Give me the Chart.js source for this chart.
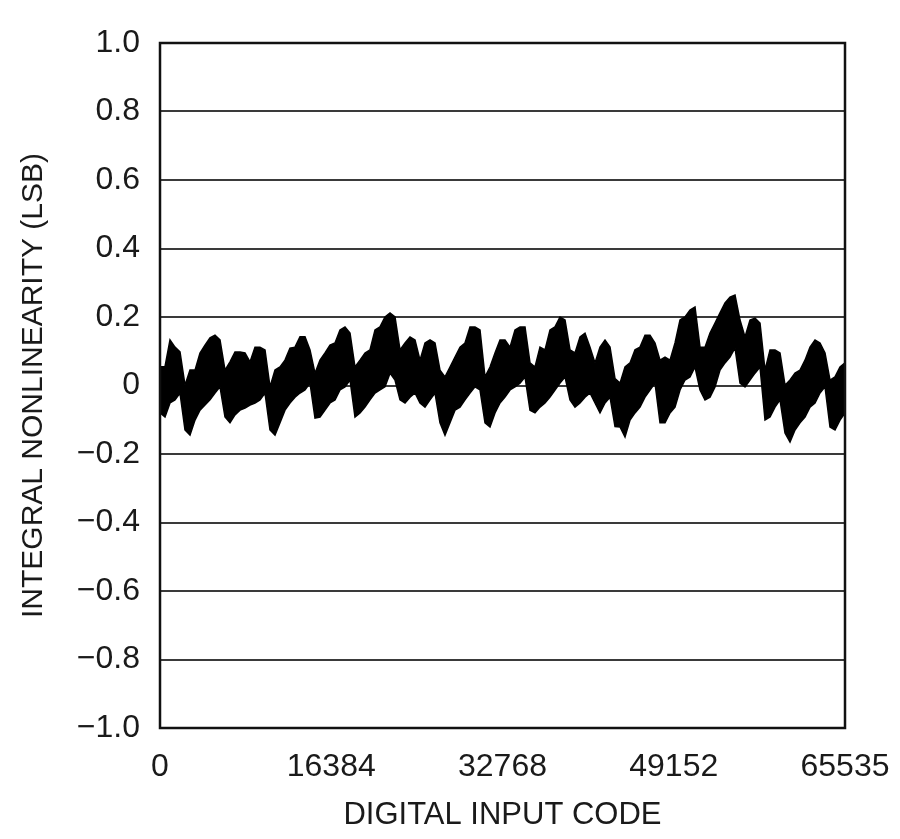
<!DOCTYPE html>
<html>
<head>
<meta charset="utf-8">
<script src="https://cdn.jsdelivr.net/npm/chart.js@4/dist/chart.umd.min.js"></script>
<style>
  html, body { margin: 0; padding: 0; background: #fff; }
  #wrap { width: 900px; height: 839px; position: relative; }
</style>
</head>
<body>
<div id="wrap"><canvas id="c"></canvas></div>
<script>
// ---- data ----
const codes = [0, 478, 957, 1435, 1913, 2392, 2870, 3349, 3827, 4305, 4784, 5262, 5740, 6219, 6697, 7175, 7654, 8132, 8611, 9089, 9567, 10046, 10524, 11002, 11481, 11959, 12437, 12916, 13394, 13873, 14351, 14829, 15308, 15786, 16264, 16743, 17221, 17699, 18178, 18656, 19135, 19613, 20091, 20570, 21048, 21526, 22005, 22483, 22962, 23440, 23918, 24397, 24875, 25353, 25832, 26310, 26788, 27267, 27745, 28224, 28702, 29180, 29659, 30137, 30615, 31094, 31572, 32050, 32529, 33007, 33486, 33964, 34442, 34921, 35399, 35877, 36356, 36834, 37313, 37791, 38269, 38748, 39226, 39704, 40183, 40661, 41139, 41618, 42096, 42575, 43053, 43531, 44010, 44488, 44966, 45445, 45923, 46402, 46880, 47358, 47837, 48315, 48793, 49272, 49750, 50228, 50707, 51185, 51664, 52142, 52620, 53099, 53577, 54055, 54534, 55012, 55491, 55969, 56447, 56926, 57404, 57882, 58361, 58839, 59317, 59796, 60274, 60753, 61231, 61709, 62188, 62666, 63144, 63623, 64101, 64580, 65058, 65535];

const inlHigh = [0.055, 0.055, 0.133, 0.112, 0.098, 0.001, 0.045, 0.045, 0.095, 0.118, 0.139, 0.147, 0.133, 0.045, 0.069, 0.098, 0.098, 0.095, 0.069, 0.112, 0.112, 0.104, -0.004, 0.045, 0.054, 0.074, 0.109, 0.112, 0.142, 0.142, 0.104, 0.036, 0.074, 0.095, 0.118, 0.124, 0.162, 0.171, 0.153, 0.054, 0.074, 0.095, 0.104, 0.162, 0.171, 0.200, 0.212, 0.200, 0.104, 0.124, 0.142, 0.133, 0.074, 0.124, 0.133, 0.124, 0.045, 0.025, 0.054, 0.083, 0.112, 0.124, 0.171, 0.171, 0.162, 0.025, 0.054, 0.095, 0.133, 0.133, 0.112, 0.162, 0.171, 0.171, 0.066, 0.054, 0.112, 0.104, 0.162, 0.171, 0.200, 0.191, 0.104, 0.095, 0.142, 0.153, 0.112, 0.066, 0.112, 0.133, 0.112, 0.020, 0.007, 0.054, 0.066, 0.104, 0.112, 0.147, 0.147, 0.124, 0.074, 0.083, 0.074, 0.124, 0.191, 0.200, 0.220, 0.229, 0.112, 0.112, 0.153, 0.182, 0.212, 0.241, 0.258, 0.264, 0.191, 0.142, 0.191, 0.197, 0.182, 0.045, 0.104, 0.104, 0.095, 0.001, 0.016, 0.036, 0.045, 0.074, 0.112, 0.133, 0.124, 0.095, 0.016, 0.025, 0.054, 0.066];

const inlLow = [-0.080, -0.092, -0.051, -0.042, -0.022, -0.130, -0.145, -0.101, -0.072, -0.057, -0.042, -0.022, -0.004, -0.092, -0.109, -0.086, -0.072, -0.066, -0.057, -0.051, -0.042, -0.022, -0.130, -0.145, -0.109, -0.072, -0.051, -0.034, -0.022, -0.013, 0.007, -0.095, -0.092, -0.072, -0.051, -0.042, -0.013, -0.004, 0.016, -0.092, -0.080, -0.063, -0.042, -0.022, -0.013, -0.004, 0.036, 0.016, -0.042, -0.051, -0.034, -0.022, -0.051, -0.063, -0.042, -0.022, -0.109, -0.145, -0.109, -0.072, -0.063, -0.042, -0.022, -0.004, -0.013, -0.109, -0.121, -0.080, -0.051, -0.034, -0.013, -0.004, 0.007, 0.025, -0.072, -0.080, -0.063, -0.051, -0.034, -0.013, 0.007, 0.025, -0.042, -0.063, -0.051, -0.034, -0.022, -0.051, -0.080, -0.051, -0.034, -0.120, -0.121, -0.150, -0.101, -0.080, -0.063, -0.034, -0.013, 0.007, -0.109, -0.109, -0.080, -0.063, -0.013, 0.016, 0.025, 0.054, -0.013, -0.042, -0.034, -0.004, 0.045, 0.066, 0.083, 0.110, 0.007, -0.004, 0.016, 0.036, 0.054, -0.101, -0.092, -0.063, -0.042, -0.139, -0.165, -0.130, -0.109, -0.092, -0.063, -0.051, -0.022, -0.004, -0.121, -0.130, -0.101, -0.080];

const xTickValues = [0, 16384, 32768, 49152, 65535];
const xTickLabels = ['0', '16384', '32768', '49152', '65535'];
const yTickValues = [-1, -0.8, -0.6, -0.4, -0.2, 0, 0.2, 0.4, 0.6, 0.8, 1];
const yTickLabels = ['\u22121.0', '\u22120.8', '\u22120.6', '\u22120.4', '\u22120.2', '0', '0.2', '0.4', '0.6', '0.8', '1.0'];
const xTitle = 'DIGITAL INPUT CODE';
const yTitle = 'INTEGRAL NONLINEARITY (LSB)';

// ---- chart ----
const FONT = "'Liberation Sans Narrow', 'Arial Narrow', 'Liberation Sans', Arial, sans-serif";
const TXT = '#1a1a1a';

const frame = {
  id: 'frame',
  afterDatasetsDraw(chart) {
    const a = chart.chartArea, ctx = chart.ctx;
    ctx.save();
    ctx.strokeStyle = '#111';
    ctx.lineWidth = 2.5;
    ctx.strokeRect(a.left, a.top, a.right - a.left, a.bottom - a.top);
    ctx.restore();
  }
};

new Chart(document.getElementById('c'), {
  type: 'line',
  data: {
    datasets: [
      {
        label: 'INL max',
        data: codes.map((c, i) => ({ x: c, y: inlHigh[i] })),
        borderColor: '#000',
        borderWidth: 1.5,
        pointRadius: 0,
        tension: 0,
        fill: false
      },
      {
        label: 'INL min',
        data: codes.map((c, i) => ({ x: c, y: inlLow[i] })),
        borderColor: '#000',
        borderWidth: 1.5,
        pointRadius: 0,
        tension: 0,
        backgroundColor: '#000',
        fill: '-1'
      }
    ]
  },
  options: {
    responsive: true,
    maintainAspectRatio: false,
    animation: false,
    devicePixelRatio: 1,
    layout: { padding: { left: 0, top: 43, right: 55, bottom: 0 } },
    plugins: { legend: { display: false }, tooltip: { enabled: false } },
    scales: {
      x: {
        type: 'linear',
        min: 0,
        max: 65535,
        grid: { display: false, drawTicks: false },
        border: { display: false },
        afterBuildTicks: (axis) => { axis.ticks = xTickValues.map(v => ({ value: v })); },
        afterFit: (axis) => { axis.height = 111; axis.paddingLeft = 0; axis.paddingRight = 0; },
        ticks: {
          color: TXT,
          font: { family: FONT, size: 32 },
          padding: 20,
          maxRotation: 0,
          autoSkip: false,
          callback: (v) => { const i = xTickValues.indexOf(v); return i >= 0 ? xTickLabels[i] : ''; }
        },
        title: {
          display: true,
          text: xTitle,
          color: TXT,
          font: { family: FONT, size: 31 },
          padding: { top: 0, bottom: 5 }
        }
      },
      y: {
        min: -1,
        max: 1,
        grid: { color: '#3a3a3a', lineWidth: 2, drawTicks: false },
        border: { display: false },
        afterBuildTicks: (axis) => { axis.ticks = yTickValues.map(v => ({ value: v })); },
        afterFit: (axis) => { axis.width = 160; axis.paddingTop = 0; axis.paddingBottom = 0; },
        ticks: {
          color: TXT,
          font: { family: FONT, size: 32 },
          padding: 20,
          autoSkip: false,
          callback: (v) => {
            const i = yTickValues.findIndex(t => Math.abs(t - v) < 1e-9);
            return i >= 0 ? yTickLabels[i] : '';
          }
        },
        title: {
          display: true,
          text: yTitle,
          color: TXT,
          font: { family: FONT, size: 30 },
          padding: { top: 16, bottom: 0 }
        }
      }
    }
  },
  plugins: [frame]
});
</script>
</body>
</html>
